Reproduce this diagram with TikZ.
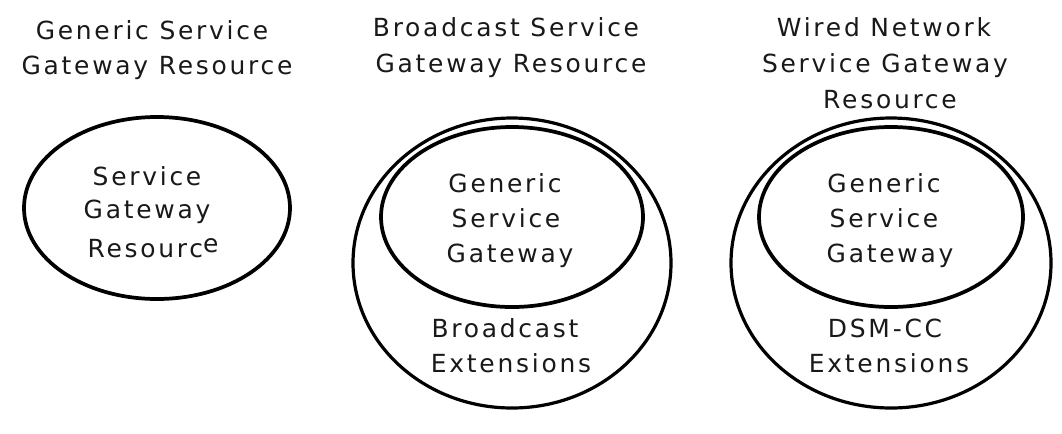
\documentclass[tikz,border=0pt]{standalone}
\usepackage{fontspec}
\setmainfont{DejaVu Sans}[LetterSpace=11]
\begin{document}
\begin{tikzpicture}[x=0.75pt,y=-0.75pt,
  lbl/.style={font=\fontsize{18.7pt}{22pt}\selectfont, inner sep=0pt, anchor=base, text=black!90},
  ring/.style={draw=black, line width=2.4pt},
  thickring/.style={draw=black, line width=2.8pt}]
\useasboundingbox[fill=white] (0,0) rectangle (1062,433);
% shapes
\draw[thickring] (157,208) ellipse [x radius=133, y radius=91];
\draw[ring] (512,263) ellipse [x radius=159, y radius=145];
\draw[thickring] (512,217) ellipse [x radius=131, y radius=90];
\draw[ring] (891,263) ellipse [x radius=160, y radius=145];
\draw[thickring] (891,217) ellipse [x radius=132, y radius=90];
% titles
\node[lbl] (t1a) at (152,39) {Generic Service};
\node[lbl] (t1b) at (157,74) {Gateway Resource};
\node[lbl] (t2a) at (506,36) {Broadcast Service};
\node[lbl] (t2b) at (511,72) {Gateway Resource};
\node[lbl] (t3a) at (884,36) {Wired Network};
\node[lbl] (t3b) at (885,72) {Service Gateway};
\node[lbl] (t3c) at (890,108) {Resource};
% left ellipse text
\node[lbl] (l1) at (147,185) {Service};
\node[lbl] (l2) at (147,218) {Gateway};
\node[lbl] (l3) at (153,257) {Resourc\raisebox{3.6pt}{e}};
% middle
\node[lbl] (m1) at (505,192) {Generic};
\node[lbl] (m2) at (506,227) {Service};
\node[lbl] (m3) at (510,262) {Gateway};
\node[lbl] (m4) at (505,337) {Broadcast};
\node[lbl] (m5) at (511,372) {Extensions};
% right
\node[lbl] (r1) at (884,192) {Generic};
\node[lbl] (r2) at (884,227) {Service};
\node[lbl] (r3) at (890,262) {Gateway};
\node[lbl] (r4) at (885,337) {DSM-CC};
\node[lbl] (r5) at (889,372) {Extensions};
\end{tikzpicture}
\end{document}
